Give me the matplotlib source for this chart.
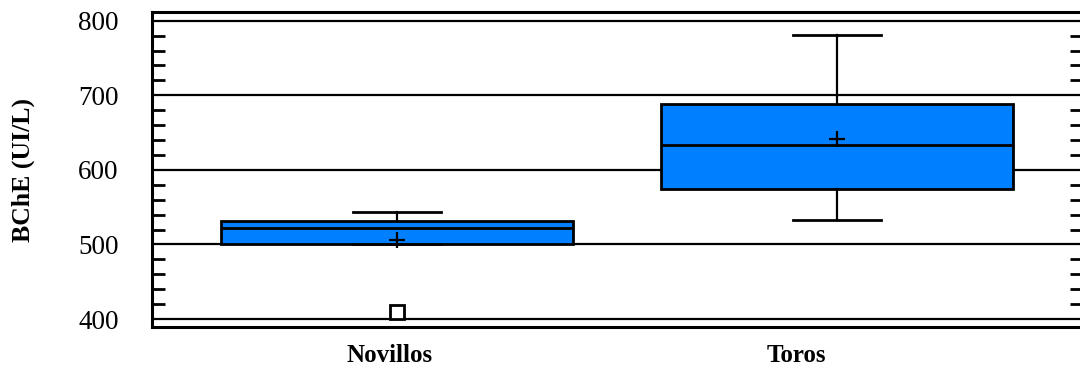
import matplotlib.pyplot as plt
import numpy as np
from matplotlib.ticker import MultipleLocator

# BChE activity by group (UI/L)
groups = ['Novillos', 'Toros']
q1 = [501, 574]
median = [522, 634]
q3 = [532, 688]
whisker_low = [501, 533]
whisker_high = [544, 781]
means = [505.5, 642]
outliers = [[410], []]

box_color = '#0080ff'
plt.rcParams['font.family'] = ['Liberation Serif', 'DejaVu Serif']

fig = plt.figure(figsize=(10.8, 3.68), dpi=100)
ax = fig.add_axes([152 / 1080, 41 / 368, 930 / 1080, 315 / 368])

stats = []
for i, name in enumerate(groups):
    stats.append({
        'label': name,
        'q1': q1[i], 'med': median[i], 'q3': q3[i],
        'whislo': whisker_low[i], 'whishi': whisker_high[i],
        'mean': means[i], 'fliers': outliers[i],
    })

positions = np.arange(1, len(groups) + 1)
ax.bxp(stats, positions=positions, widths=0.8, capwidths=0.2,
       patch_artist=True, showmeans=True,
       boxprops=dict(facecolor=box_color, edgecolor='black', linewidth=2),
       medianprops=dict(color='black', linewidth=2),
       whiskerprops=dict(color='black', linewidth=1.6),
       capprops=dict(color='black', linewidth=2),
       meanprops=dict(marker='+', markersize=12, markeredgecolor='black',
                      markeredgewidth=1.6),
       flierprops=dict(marker='s', markersize=10, markerfacecolor='white',
                       markeredgecolor='black', markeredgewidth=2),
       zorder=3)

# horizontal reference lines at every 100
for y in range(400, 801, 100):
    ax.axhline(y, color='black', linewidth=1.6, zorder=1)

ax.set_xlim(0.443, 2.557)
ax.set_ylim(389.3, 811.7)
ax.set_yticks([400, 500, 600, 700, 800])
ax.yaxis.set_minor_locator(MultipleLocator(20))
ax.tick_params(axis='y', which='major', length=0, pad=24, labelsize=19.5)
ax.tick_params(axis='y', which='minor', direction='in', length=9, width=2,
               left=True, right=True)

# group labels sit slightly left of the box centres
ax.set_xticks(positions + np.array([-0.016, -0.093]))
ax.set_xticklabels(groups, fontsize=18, fontweight='bold')
ax.tick_params(axis='x', length=0, pad=12)

ax.set_ylabel('BChE (UI/L)', fontsize=18.5, fontweight='bold', labelpad=31)

for side in ['left', 'top', 'bottom']:
    ax.spines[side].set_linewidth(2.2)
ax.spines['right'].set_visible(False)

fig.savefig('out.png', dpi=100)
